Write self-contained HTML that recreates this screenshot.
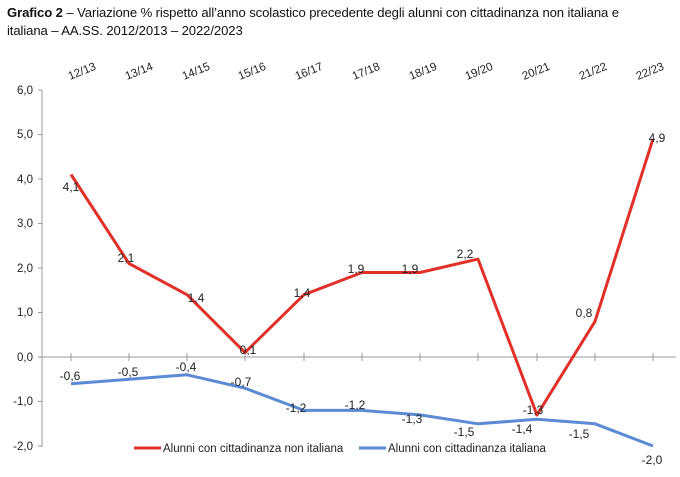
<!DOCTYPE html>
<html><head><meta charset="utf-8"><style>
body{margin:0;background:#fff;width:680px;height:477px;overflow:hidden;font-family:"Liberation Sans",sans-serif}
.t{position:absolute;left:7px;top:4px;font-size:13.1px;line-height:18px;color:#111;width:652px;letter-spacing:-0.1px}
</style></head><body>
<div class="t"><b>Grafico 2</b> – Variazione % rispetto all’anno scolastico precedente degli alunni con cittadinanza non italiana e italiana – AA.SS. 2012/2013 – 2022/2023</div>
<svg width="680" height="477" style="position:absolute;left:0;top:0" font-family="Liberation Sans, sans-serif" font-size="11.5" fill="#222">
<g stroke="#999" stroke-width="1">
<line x1="42" y1="90" x2="42" y2="447"/>
<line x1="38" y1="90" x2="42" y2="90"/><line x1="38" y1="134.5" x2="42" y2="134.5"/><line x1="38" y1="179" x2="42" y2="179"/><line x1="38" y1="223.5" x2="42" y2="223.5"/><line x1="38" y1="268" x2="42" y2="268"/><line x1="38" y1="312.5" x2="42" y2="312.5"/><line x1="38" y1="357" x2="42" y2="357"/><line x1="38" y1="401.5" x2="42" y2="401.5"/><line x1="38" y1="446" x2="42" y2="446"/>
<line x1="42" y1="357" x2="676" y2="357"/>
</g>
<g text-anchor="end">
<text x="33" y="94">6,0</text><text x="33" y="138">5,0</text><text x="33" y="183">4,0</text><text x="33" y="227">3,0</text><text x="33" y="272">2,0</text><text x="33" y="316">1,0</text><text x="33" y="361">0,0</text><text x="33" y="405">-1,0</text><text x="33" y="450">-2,0</text>
</g>
<g stroke="#999">
<line x1="71" y1="353" x2="71" y2="361"/><line x1="129" y1="353" x2="129" y2="361"/><line x1="187" y1="353" x2="187" y2="361"/><line x1="245" y1="353" x2="245" y2="361"/><line x1="304" y1="353" x2="304" y2="361"/><line x1="362" y1="353" x2="362" y2="361"/><line x1="420" y1="353" x2="420" y2="361"/><line x1="478" y1="353" x2="478" y2="361"/><line x1="537" y1="353" x2="537" y2="361"/><line x1="595" y1="353" x2="595" y2="361"/><line x1="653" y1="353" x2="653" y2="361"/>
</g>
<g font-size="11.5">
<text transform="translate(70,80) rotate(-22)">12/13</text>
<text transform="translate(127,80) rotate(-22)">13/14</text>
<text transform="translate(184,80) rotate(-22)">14/15</text>
<text transform="translate(240,80) rotate(-22)">15/16</text>
<text transform="translate(297,80) rotate(-22)">16/17</text>
<text transform="translate(354,80) rotate(-22)">17/18</text>
<text transform="translate(411,80) rotate(-22)">18/19</text>
<text transform="translate(467,80) rotate(-22)">19/20</text>
<text transform="translate(524,80) rotate(-22)">20/21</text>
<text transform="translate(581,80) rotate(-22)">21/22</text>
<text transform="translate(638,80) rotate(-22)">22/23</text>
</g>
<polyline fill="none" stroke="#e03028" stroke-width="3" stroke-linejoin="round" points="71,174.5 129,263.5 187,294.7 245,352.5 304,294.7 362,272.5 420,272.5 478,259.1 537,414.9 595,321.4 653,138.9"/>
<polyline fill="none" stroke="#5b8bd4" stroke-width="3" stroke-linejoin="round" points="71,383.7 129,379.3 187,374.8 245,388.2 304,410.4 362,410.4 420,414.9 478,423.8 537,419.3 595,423.8 653,446"/>
<g text-anchor="middle" font-size="12">
<text x="71" y="191">4,1</text><text x="126" y="262">2,1</text><text x="196" y="302">1,4</text><text x="248" y="354">0,1</text><text x="302" y="297">1,4</text><text x="356" y="273">1,9</text><text x="410" y="273">1,9</text><text x="465" y="258">2,2</text><text x="533" y="414">-1,3</text><text x="584" y="317">0,8</text><text x="657" y="142">4,9</text>
<text x="70" y="380">-0,6</text><text x="128" y="376">-0,5</text><text x="186" y="371">-0,4</text><text x="241" y="386">-0,7</text><text x="296" y="412">-1,2</text><text x="355" y="409">-1,2</text><text x="412" y="423">-1,3</text><text x="464" y="436">-1,5</text><text x="522" y="433">-1,4</text><text x="579" y="438">-1,5</text><text x="652" y="464">-2,0</text>
</g>
<line x1="134" y1="448" x2="161" y2="448" stroke="#e03028" stroke-width="3"/>
<text x="163" y="452">Alunni con cittadinanza non italiana</text>
<line x1="359" y1="448" x2="386" y2="448" stroke="#5b8bd4" stroke-width="3"/>
<text x="388" y="452">Alunni con cittadinanza italiana</text>
</svg>
</body></html>
